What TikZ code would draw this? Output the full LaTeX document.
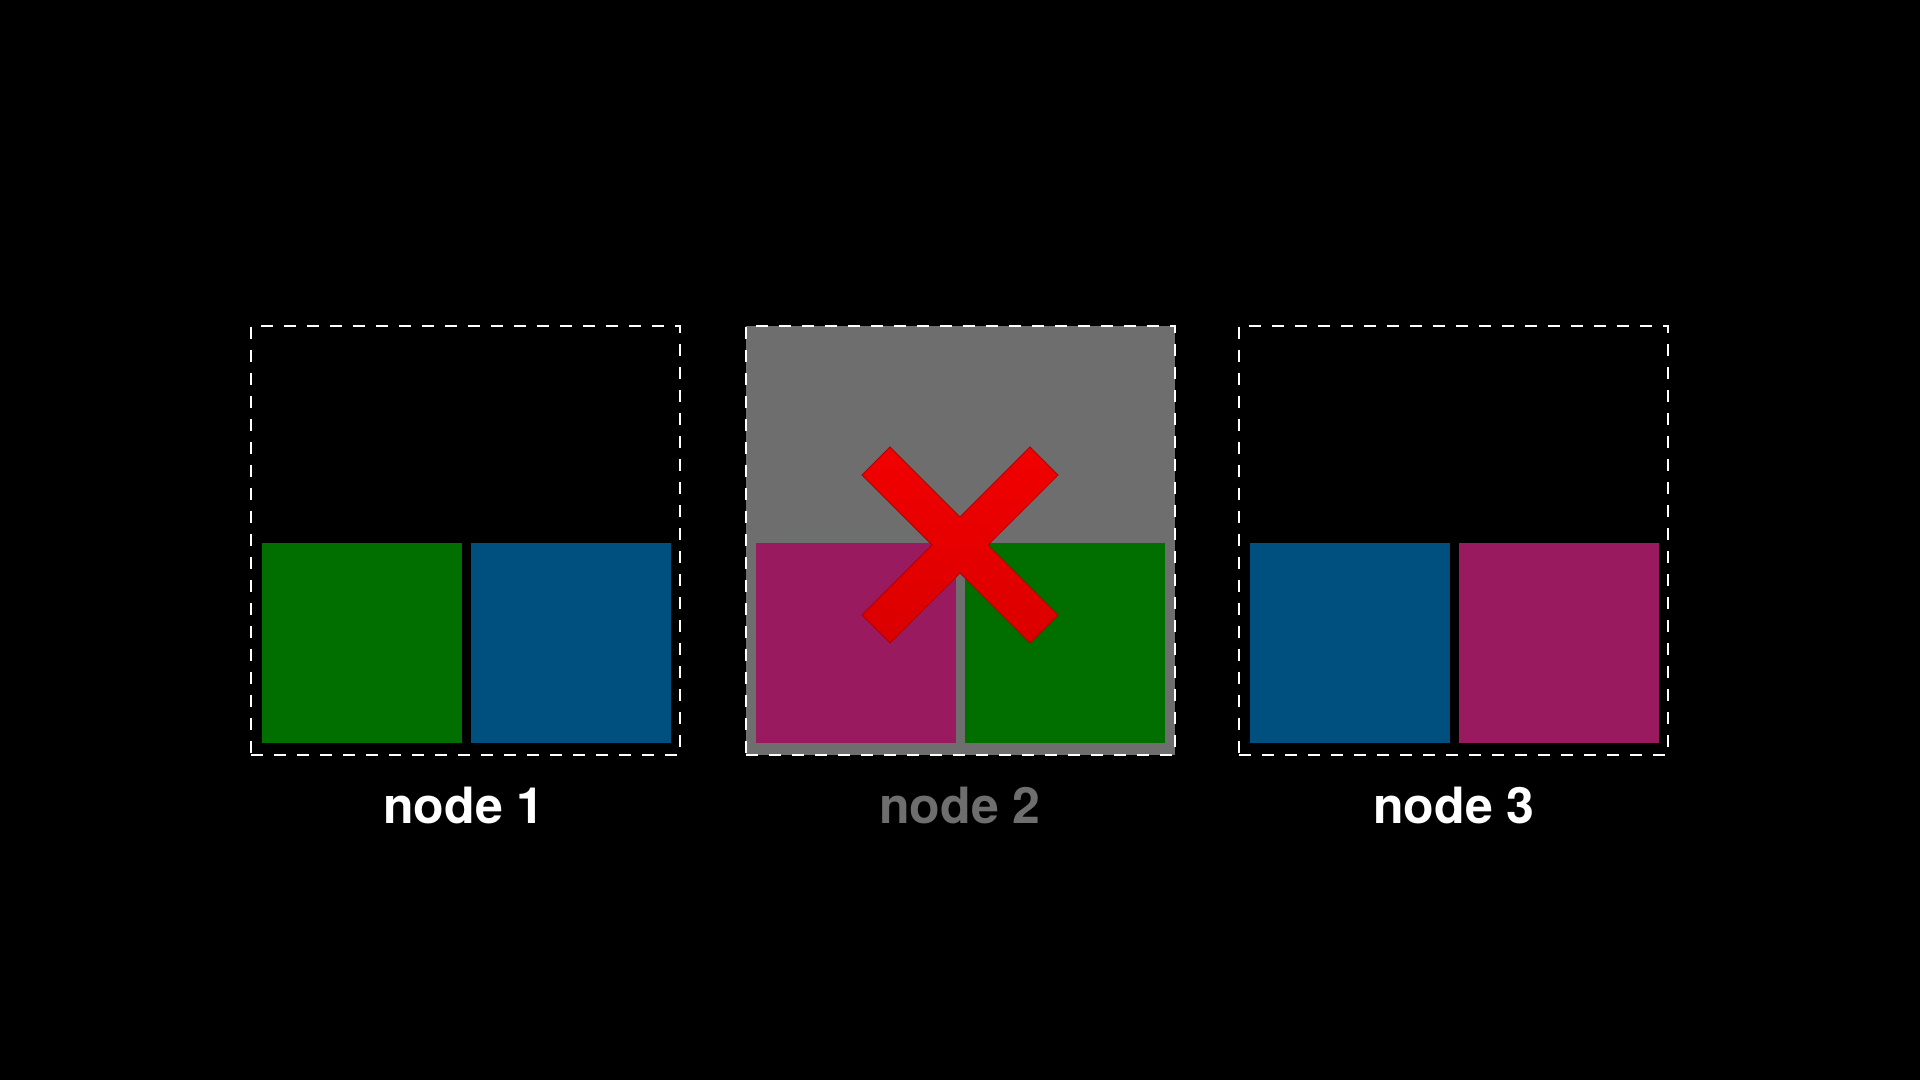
\documentclass[tikz,border=0pt]{standalone}
\usepackage{fontspec}
\setmainfont{TeX Gyre Heros}
\definecolor{bggray}{HTML}{6E6E6E}
\definecolor{sqgreen}{HTML}{006F00}
\definecolor{sqblue}{HTML}{00507F}
\definecolor{sqmag}{HTML}{991A5E}
\definecolor{xred}{HTML}{F20000}
\definecolor{xedge}{HTML}{B00000}
\begin{document}
\begin{tikzpicture}[x=1pt,y=-1pt,
  frame/.style={draw=white, line width=2pt, dash pattern=on 12pt off 11pt, minimum width=429pt, minimum height=429pt, inner sep=0pt, outer sep=0pt},
  sq/.style={minimum width=200pt, minimum height=200pt, inner sep=0pt, outer sep=0pt, draw=none},
  lbl/.style={font=\fontsize{50}{60}\selectfont\bfseries, anchor=base, inner sep=0pt}]
\fill[black] (0,0) rectangle (1920,1080);
\useasboundingbox (0,0) rectangle (1920,1080);
% boxes
\node[frame] (b1) at (465.5,540) {};
\node[frame, fill=bggray] (b2) at (960.5,540) {};
\node[frame] (b3) at (1453.5,540) {};
% squares
\node[sq, fill=sqgreen] (s11) at (362,643) {};
\node[sq, fill=sqblue]  (s12) at (571,643) {};
\node[sq, fill=sqmag]   (s21) at (856,643) {};
\node[sq, fill=sqgreen] (s22) at (1065,643) {};
\node[sq, fill=sqblue]  (s31) at (1350,643) {};
\node[sq, fill=sqmag]   (s32) at (1559,643) {};
% labels
\node[lbl, text=white]  (l1) at (464,823) {node 1};
\node[lbl, text=bggray] (l2) at (960,823) {node 2};
\node[lbl, text=white]  (l3) at (1454,823) {node 3};
% red cross
\draw[xedge, line width=1pt, top color=xred!100!red, bottom color=xred!90!black, shading angle=0]
  (890,447) -- (960,517) -- (1030,447) -- (1058,475) -- (988,545) -- (1058,615)
  -- (1030,643) -- (960,573) -- (890,643) -- (862,615) -- (932,545) -- (862,475) -- cycle;
\end{tikzpicture}
\end{document}
